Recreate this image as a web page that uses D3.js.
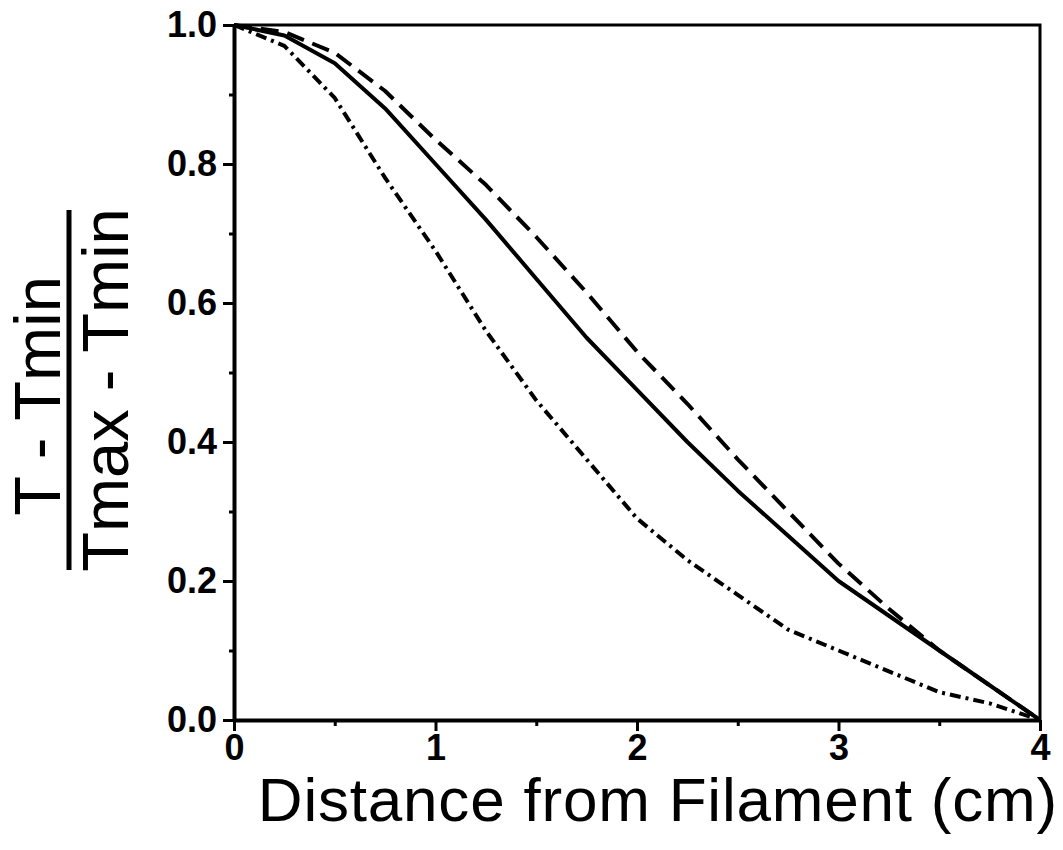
<!DOCTYPE html>
<html>
<head>
<meta charset="utf-8">
<script src="https://cdn.jsdelivr.net/npm/d3@7"></script>
<style>
  body { margin: 0; background: #fff; }
  svg { display: block; }
</style>
</head>
<body>
<div id="chart"></div>
<script>
'use strict';

// distance from filament (cm)
var distance = [0, 0.25, 0.5, 0.75, 1.0, 1.25, 1.5, 1.75, 2.0, 2.25, 2.5, 2.75, 3.0, 3.25, 3.5, 3.75, 4.0];
// normalised temperature, one array per curve
var solidSeries   = [1.0, 0.985, 0.945, 0.88, 0.80, 0.72, 0.635, 0.55, 0.475, 0.40, 0.33, 0.265, 0.20, 0.15, 0.10, 0.05, 0.0];
var dashedSeries  = [1.0, 0.99, 0.96, 0.905, 0.835, 0.77, 0.695, 0.615, 0.53, 0.455, 0.375, 0.30, 0.225, 0.16, 0.10, 0.05, 0.0];
var dashDotSeries = [1.0, 0.97, 0.895, 0.78, 0.675, 0.56, 0.46, 0.375, 0.29, 0.23, 0.18, 0.13, 0.10, 0.07, 0.04, 0.024, 0.0];

var xMajor = [0, 1, 2, 3, 4];
var xMinor = [0.5, 1.5, 2.5, 3.5];
var yMajor = [0, 0.2, 0.4, 0.6, 0.8, 1.0];
var yMinor = [0.1, 0.3, 0.5, 0.7, 0.9];

var W = 1063, H = 850;
var margins = {top: 25, left: 234, right: 23, bottom: 130};

var svg = d3.select('#chart').append('svg')
    .attr('width', W)
    .attr('height', H);

var xScale = d3.scaleLinear().domain([0, 4]).range([margins.left, W - margins.right]);
var yScale = d3.scaleLinear().domain([0, 1]).range([H - margins.bottom, margins.top]);

function styleTicks(g) {
    g.selectAll('.tick text')
        .style('font-family', '"Liberation Sans", Arial, sans-serif')
        .style('font-weight', 'bold')
        .style('font-size', '36px')
        .attr('fill', '#000');
    g.select('.domain').attr('stroke-width', 4);
    g.selectAll('.tick line').attr('stroke-width', 3);
}

// frame: top and right edges
svg.append('path')
    .attr('d', 'M' + xScale(0) + ',' + yScale(1) + 'H' + xScale(4) + 'V' + yScale(0))
    .attr('fill', 'none')
    .attr('stroke', '#000')
    .attr('stroke-width', 3);

// minor ticks first, then the major axes on top
svg.append('g')
    .attr('transform', 'translate(' + xScale(0) + ',0)')
    .call(d3.axisLeft(yScale).tickValues(yMinor).tickSize(5).tickFormat(''))
    .call(function(g){ g.select('.domain').remove(); })
    .selectAll('line').attr('stroke-width', 3);

svg.append('g')
    .attr('transform', 'translate(0,' + yScale(0) + ')')
    .call(d3.axisBottom(xScale).tickValues(xMinor).tickSize(6).tickFormat(''))
    .call(function(g){ g.select('.domain').remove(); })
    .selectAll('line').attr('stroke-width', 3);

svg.append('g')
    .attr('transform', 'translate(' + xScale(0) + ',0)')
    .call(d3.axisLeft(yScale).tickValues(yMajor).tickSize(11).tickSizeOuter(0).tickPadding(6).tickFormat(d3.format('.1f')))
    .call(styleTicks);

svg.append('g')
    .attr('transform', 'translate(0,' + yScale(0) + ')')
    .call(d3.axisBottom(xScale).tickValues(xMajor).tickSize(11).tickSizeOuter(0).tickPadding(3).tickFormat(d3.format('d')))
    .call(styleTicks);

// curves
var line = d3.line()
    .x(function(d){ return xScale(d[0]); })
    .y(function(d){ return yScale(d[1]); });

var curves = [
    {values: dashDotSeries, dash: '11,5,3,5'},
    {values: dashedSeries, dash: '18,9'},
    {values: solidSeries, dash: null}
];

curves.forEach(function(c){
    svg.append('path')
        .datum(d3.zip(distance, c.values))
        .attr('d', line)
        .attr('fill', 'none')
        .attr('stroke', '#000')
        .attr('stroke-width', 4)
        .attr('stroke-linejoin', 'round')
        .attr('stroke-dasharray', c.dash);
});

// x axis title
svg.append('text')
    .attr('x', 1058)
    .attr('y', 821)
    .attr('text-anchor', 'end')
    .attr('font-family', '"Liberation Sans", Arial, sans-serif')
    .attr('font-size', 62)
    .attr('letter-spacing', 0.8)
    .text('Distance from Filament (cm)');

// y axis title as a fraction, rotated
var yTitle = svg.append('g')
    .attr('transform', 'translate(0,390) rotate(-90)')
    .attr('font-family', '"Liberation Sans", Arial, sans-serif')
    .attr('font-size', 65)
    .attr('text-anchor', 'middle');

yTitle.append('text')
    .attr('x', -6)
    .attr('y', 60)
    .text('T - Tmin');

yTitle.append('line')
    .attr('x1', -180).attr('x2', 180)
    .attr('y1', 69).attr('y2', 69)
    .attr('stroke', '#000')
    .attr('stroke-width', 5);

yTitle.append('text')
    .attr('x', 0)
    .attr('y', 128)
    .text('Tmax - Tmin');
</script>
</body>
</html>
